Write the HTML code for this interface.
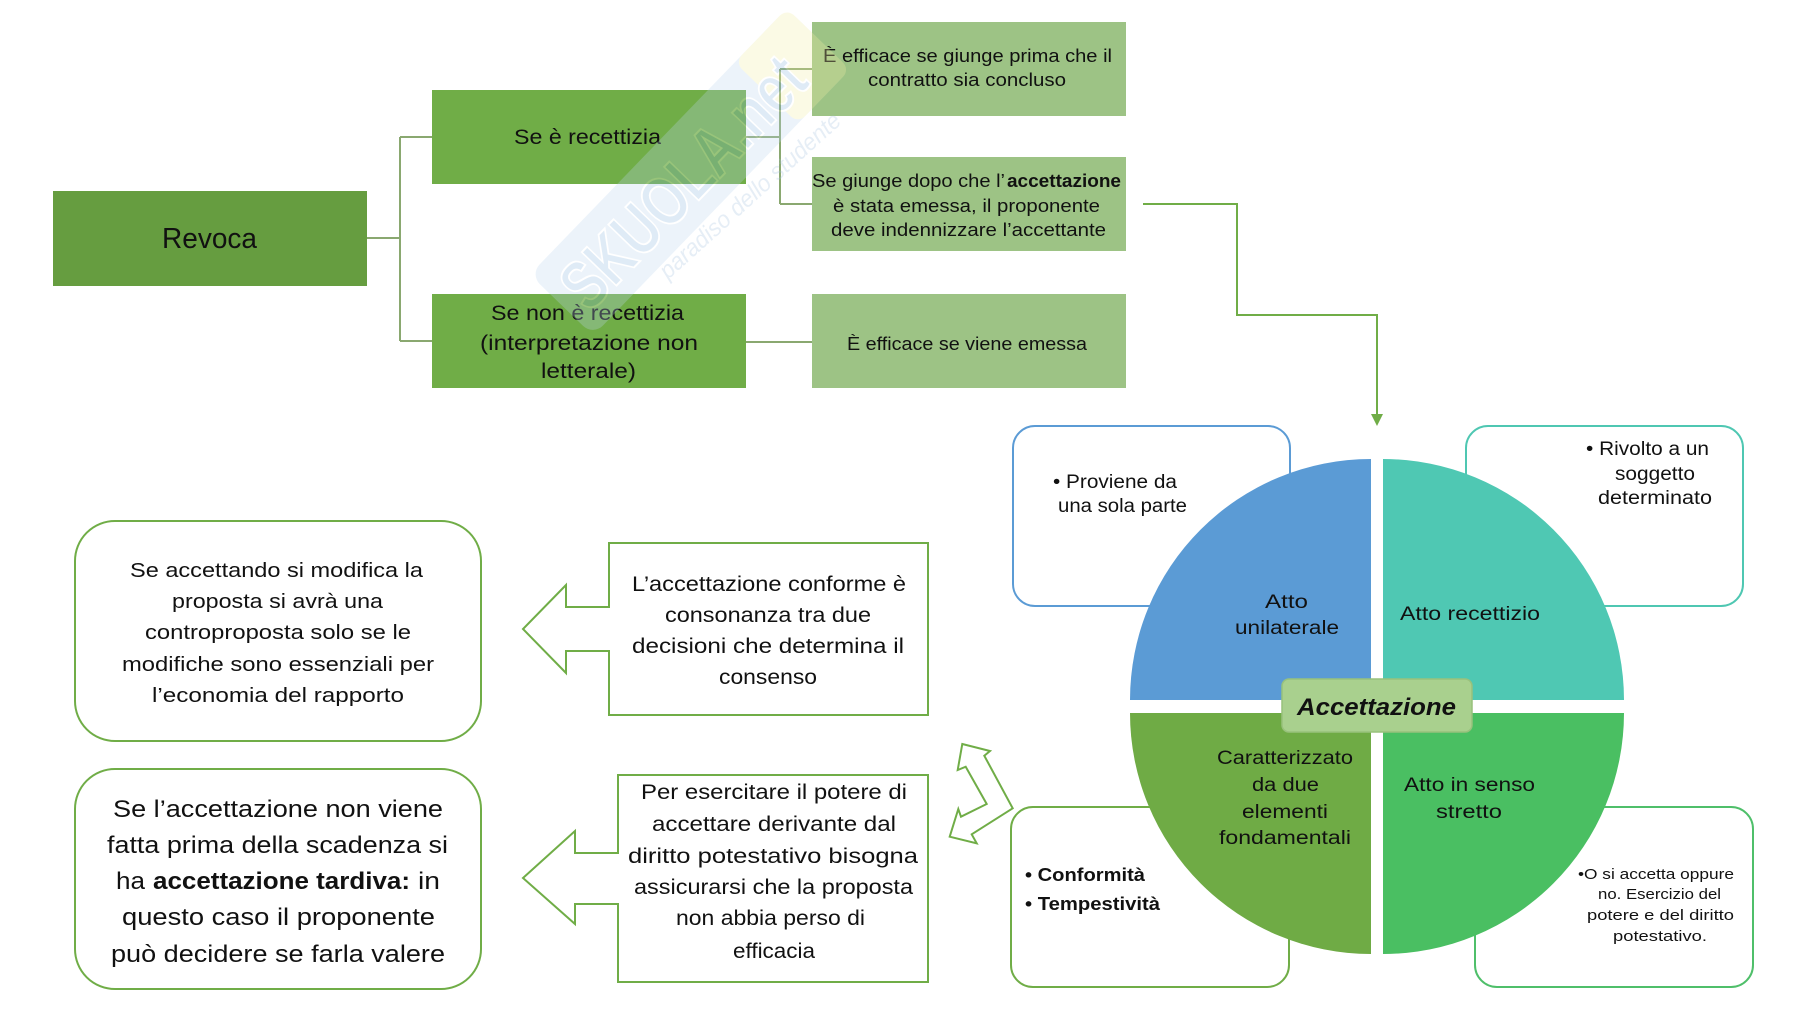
<!DOCTYPE html>
<html><head><meta charset="utf-8"><style>
html,body{margin:0;padding:0;background:#fff;}
svg{display:block;}
text{font-family:"Liberation Sans",sans-serif;fill:#111;}
</style></head><body>
<svg width="1800" height="1013" viewBox="0 0 1800 1013" xmlns="http://www.w3.org/2000/svg">
<rect width="1800" height="1013" fill="#fff"/>

<!-- Top tree connectors -->
<g fill="none" stroke="#8aa870" stroke-width="2">
<path d="M367 238 H400 M400 137 V341 M400 137 H432 M400 341 H432"/>
<path d="M746 137 H780 M780 69 V204 M780 69 H812 M780 204 H812"/>
<path d="M746 342 H812"/>
</g>
<!-- arrow connector -->
<path d="M1143 204 H1237 V315 H1377 V416" fill="none" stroke="#70ad47" stroke-width="2"/>
<polygon points="1371,414 1383,414 1377,426" fill="#70ad47"/>

<!-- Top boxes -->
<rect x="53" y="191" width="314" height="95" fill="#669d40"/>
<rect x="432" y="90" width="314" height="94" fill="#70ad47"/>
<rect x="432" y="294" width="314" height="94" fill="#70ad47"/>
<rect x="812" y="22" width="314" height="94" fill="#9dc385"/>
<rect x="812" y="157" width="314" height="94" fill="#9dc385"/>
<rect x="812" y="294" width="314" height="94" fill="#9dc385"/>

<text x="162" y="248" font-size="29" textLength="95" lengthAdjust="spacingAndGlyphs">Revoca</text>
<text x="514" y="144" font-size="21" textLength="147" lengthAdjust="spacingAndGlyphs">Se è recettizia</text>
<text x="491" y="320" font-size="21" textLength="193" lengthAdjust="spacingAndGlyphs">Se non è recettizia</text>
<text x="480" y="350" font-size="21" textLength="218" lengthAdjust="spacingAndGlyphs">(interpretazione non</text>
<text x="541" y="378" font-size="21" textLength="95" lengthAdjust="spacingAndGlyphs">letterale)</text>

<text x="823" y="62" font-size="18" textLength="289" lengthAdjust="spacingAndGlyphs">È efficace se giunge prima che il</text>
<text x="868" y="86" font-size="18" textLength="198" lengthAdjust="spacingAndGlyphs">contratto sia concluso</text>
<text x="812" y="187" font-size="18" textLength="193" lengthAdjust="spacingAndGlyphs">Se giunge dopo che l’</text>
<text x="1007" y="187" font-size="18" font-weight="bold" textLength="114" lengthAdjust="spacingAndGlyphs">accettazione</text>
<text x="833" y="212" font-size="18" textLength="267" lengthAdjust="spacingAndGlyphs">è stata emessa, il proponente</text>
<text x="831" y="236" font-size="18" textLength="275" lengthAdjust="spacingAndGlyphs">deve indennizzare l’accettante</text>
<text x="847" y="350" font-size="18" textLength="240" lengthAdjust="spacingAndGlyphs">È efficace se viene emessa</text>

<!-- Watermark -->
<g opacity="0.28">
<g transform="translate(690,172) rotate(-46)">
<rect x="-185" y="-44" width="370" height="88" rx="14" fill="#bcd6ef"/>
<rect x="110" y="-44" width="75" height="88" rx="10" fill="#f4eea6"/>
<text x="-172" y="26" font-size="70" font-weight="bold" stroke="#ffffff" stroke-width="2" textLength="320" lengthAdjust="spacingAndGlyphs" style="fill:#8fb9e2">SKUOLA.net</text>
</g>
<text transform="translate(668,280) rotate(-42)" font-size="24" font-style="italic" textLength="235" lengthAdjust="spacingAndGlyphs" style="fill:#a9c4df">paradiso dello studente</text>
</g>

<!-- Left rounded boxes -->
<rect x="75" y="521" width="406" height="220" rx="40" fill="#fff" stroke="#70ad47" stroke-width="2"/>
<rect x="75" y="769" width="406" height="220" rx="40" fill="#fff" stroke="#70ad47" stroke-width="2"/>

<text x="130" y="577" font-size="20.5" textLength="293" lengthAdjust="spacingAndGlyphs">Se accettando si modifica la</text>
<text x="172" y="608" font-size="20.5" textLength="211" lengthAdjust="spacingAndGlyphs">proposta si avrà una</text>
<text x="145" y="639" font-size="20.5" textLength="266" lengthAdjust="spacingAndGlyphs">controproposta solo se le</text>
<text x="122" y="671" font-size="20.5" textLength="312" lengthAdjust="spacingAndGlyphs">modifiche sono essenziali per</text>
<text x="152" y="702" font-size="20.5" textLength="252" lengthAdjust="spacingAndGlyphs">l’economia del rapporto</text>

<text x="113" y="817" font-size="24" textLength="330" lengthAdjust="spacingAndGlyphs">Se l’accettazione non viene</text>
<text x="107" y="853" font-size="24" textLength="341" lengthAdjust="spacingAndGlyphs">fatta prima della scadenza si</text>
<text x="116" y="889" font-size="24" textLength="29" lengthAdjust="spacingAndGlyphs">ha</text>
<text x="153" y="889" font-size="24" font-weight="bold" textLength="257" lengthAdjust="spacingAndGlyphs">accettazione tardiva:</text>
<text x="418" y="889" font-size="24" textLength="22" lengthAdjust="spacingAndGlyphs">in</text>
<text x="122" y="925" font-size="24" textLength="313" lengthAdjust="spacingAndGlyphs">questo caso il proponente</text>
<text x="111" y="962" font-size="24" textLength="334" lengthAdjust="spacingAndGlyphs">può decidere se farla valere</text>

<!-- Arrow callouts -->
<polygon points="609,543 928,543 928,715 609,715 609,651 566,651 566,673 523,629 566,585 566,607 609,607" fill="#fff" stroke="#70ad47" stroke-width="2"/>
<polygon points="618,775 928,775 928,982 618,982 618,904 575,904 575,924 523,878 575,831 575,853 618,853" fill="#fff" stroke="#70ad47" stroke-width="2"/>

<text x="632" y="591" font-size="21" textLength="274" lengthAdjust="spacingAndGlyphs">L’accettazione conforme è</text>
<text x="665" y="622" font-size="21" textLength="206" lengthAdjust="spacingAndGlyphs">consonanza tra due</text>
<text x="632" y="653" font-size="21" textLength="272" lengthAdjust="spacingAndGlyphs">decisioni che determina il</text>
<text x="719" y="684" font-size="21" textLength="98" lengthAdjust="spacingAndGlyphs">consenso</text>

<text x="641" y="799" font-size="21" textLength="266" lengthAdjust="spacingAndGlyphs">Per esercitare il potere di</text>
<text x="652" y="831" font-size="21" textLength="244" lengthAdjust="spacingAndGlyphs">accettare derivante dal</text>
<text x="628" y="863" font-size="21" textLength="290" lengthAdjust="spacingAndGlyphs">diritto potestativo bisogna</text>
<text x="634" y="894" font-size="21" textLength="279" lengthAdjust="spacingAndGlyphs">assicurarsi che la proposta</text>
<text x="676" y="925" font-size="21" textLength="189" lengthAdjust="spacingAndGlyphs">non abbia perso di</text>
<text x="733" y="958" font-size="21" textLength="82" lengthAdjust="spacingAndGlyphs">efficacia</text>

<!-- double bent arrow -->
<polygon points="962.3,744 990,751 984.3,755.7 1012.7,808.3 971.7,834.3 976.7,843.3 949.7,836.7 958.3,809 961,816.7 986.7,804 965.7,766.7 957.7,770" fill="#fff" stroke="#70ad47" stroke-width="2" stroke-linejoin="miter"/>

<!-- boxes around circle -->
<rect x="1013" y="426" width="277" height="180" rx="22" fill="#fff" stroke="#5b9bd5" stroke-width="2"/>
<rect x="1466" y="426" width="277" height="180" rx="22" fill="#fff" stroke="#4fc7b2" stroke-width="2"/>
<rect x="1011" y="807" width="278" height="180" rx="22" fill="#fff" stroke="#70ad47" stroke-width="2"/>
<rect x="1475" y="807" width="278" height="180" rx="22" fill="#fff" stroke="#4fbf6a" stroke-width="2"/>

<!-- quadrants -->
<path d="M1371 700 L1130 700 A241 241 0 0 1 1371 459 Z" fill="#5b9bd5"/>
<path d="M1383 700 L1383 459 A241 241 0 0 1 1624 700 Z" fill="#4fc8b3"/>
<path d="M1371 713 L1371 954 A241 241 0 0 1 1130 713 Z" fill="#6fab45"/>
<path d="M1383 713 L1624 713 A241 241 0 0 1 1383 954 Z" fill="#4abf62"/>

<rect x="1282" y="679" width="190" height="53" rx="7" fill="#a9d08e" stroke="#98c17c" stroke-width="1.5"/>
<text x="1297" y="715" font-size="24.5" font-weight="bold" font-style="italic" textLength="159" lengthAdjust="spacingAndGlyphs">Accettazione</text>

<text x="1053" y="488" font-size="19" textLength="124" lengthAdjust="spacingAndGlyphs">• Proviene da</text>
<text x="1058" y="512" font-size="19" textLength="129" lengthAdjust="spacingAndGlyphs">una sola parte</text>
<text x="1265" y="608" font-size="19" textLength="43" lengthAdjust="spacingAndGlyphs">Atto</text>
<text x="1235" y="634" font-size="19" textLength="104" lengthAdjust="spacingAndGlyphs">unilaterale</text>
<text x="1400" y="620" font-size="19" textLength="140" lengthAdjust="spacingAndGlyphs">Atto recettizio</text>
<text x="1586" y="455" font-size="19" textLength="123" lengthAdjust="spacingAndGlyphs">• Rivolto a un</text>
<text x="1615" y="480" font-size="19" textLength="80" lengthAdjust="spacingAndGlyphs">soggetto</text>
<text x="1598" y="504" font-size="19" textLength="114" lengthAdjust="spacingAndGlyphs">determinato</text>

<text x="1217" y="764" font-size="19" textLength="136" lengthAdjust="spacingAndGlyphs">Caratterizzato</text>
<text x="1252" y="791" font-size="19" textLength="67" lengthAdjust="spacingAndGlyphs">da due</text>
<text x="1242" y="818" font-size="19" textLength="86" lengthAdjust="spacingAndGlyphs">elementi</text>
<text x="1219" y="844" font-size="19" textLength="132" lengthAdjust="spacingAndGlyphs">fondamentali</text>
<text x="1404" y="791" font-size="19" textLength="131" lengthAdjust="spacingAndGlyphs">Atto in senso</text>
<text x="1436" y="818" font-size="19" textLength="66" lengthAdjust="spacingAndGlyphs">stretto</text>

<text x="1025" y="881" font-size="18" font-weight="bold" textLength="120" lengthAdjust="spacingAndGlyphs">• Conformità</text>
<text x="1025" y="910" font-size="18" font-weight="bold" textLength="135" lengthAdjust="spacingAndGlyphs">• Tempestività</text>

<text x="1578" y="879" font-size="14.5" textLength="156" lengthAdjust="spacingAndGlyphs">•O si accetta oppure</text>
<text x="1598" y="899" font-size="14.5" textLength="123" lengthAdjust="spacingAndGlyphs">no. Esercizio del</text>
<text x="1587" y="920" font-size="14.5" textLength="147" lengthAdjust="spacingAndGlyphs">potere e del diritto</text>
<text x="1613" y="941" font-size="14.5" textLength="94" lengthAdjust="spacingAndGlyphs">potestativo.</text>
</svg>
</body></html>
